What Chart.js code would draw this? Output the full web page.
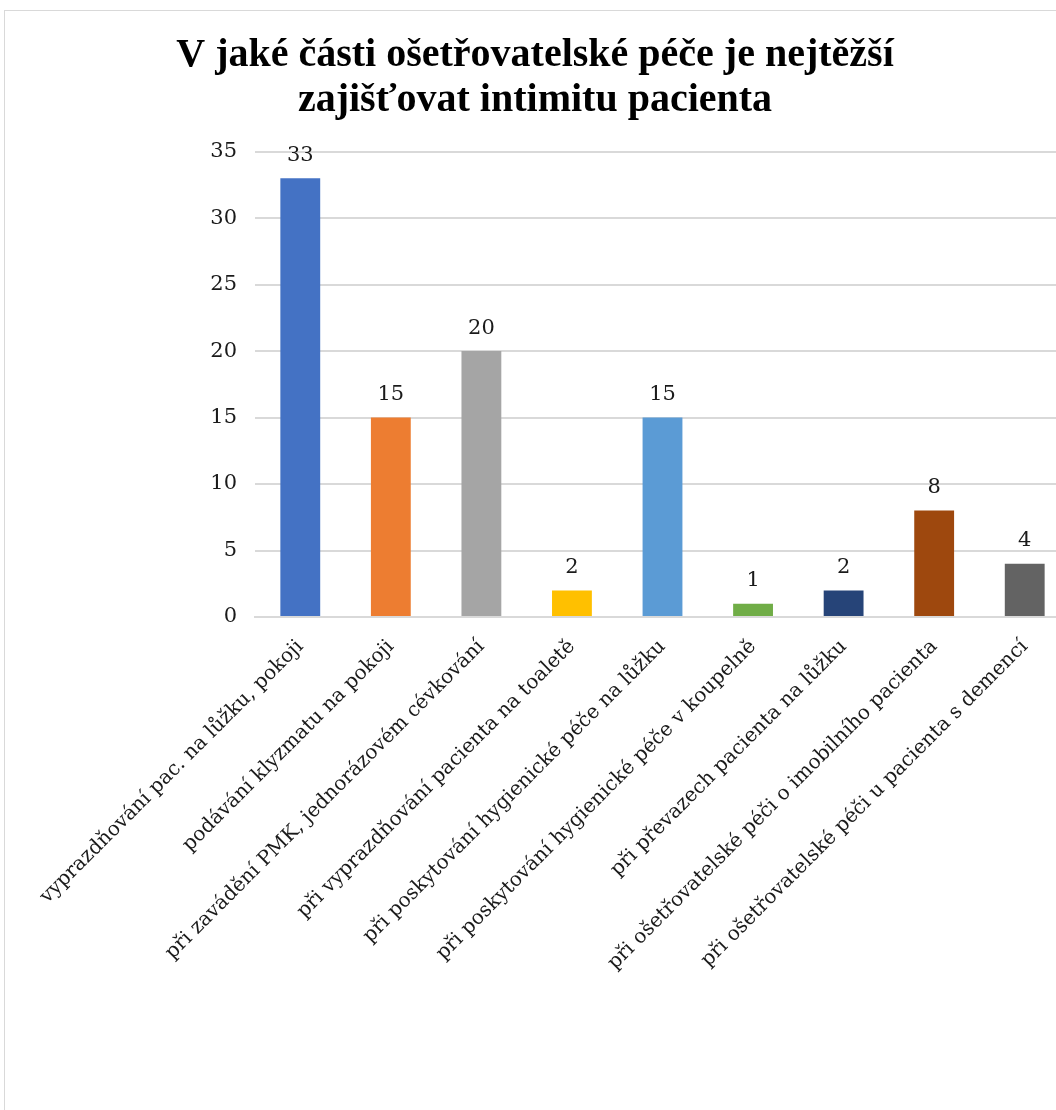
<!DOCTYPE html>
<html>
<head>
<meta charset="utf-8">
<script src="https://cdn.jsdelivr.net/npm/chart.js@4/dist/chart.umd.min.js"></script>
<style>
  html, body { margin: 0; padding: 0; background: #fff; overflow: hidden; width: 1056px; height: 1110px; }
  #frame { position: absolute; left: 4px; top: 10px; width: 1100px; height: 1150px; border: 1px solid #d9d9d9; box-sizing: border-box; }
  #wrap { position: absolute; left: 0; top: 0; width: 1078px; height: 1110px; }
</style>
</head>
<body>
<div id="frame"></div>
<div id="wrap"><canvas id="c" width="1078" height="1110"></canvas></div>
<script>
const titleLines = ["V jaké části ošetřovatelské péče je nejtěžší", "zajišťovat intimitu pacienta"];
const categories = [
  "vyprazdňování pac. na lůžku, pokoji",
  "podávání klyzmatu na pokoji",
  "při zavádění PMK, jednorázovém cévkování",
  "při vyprazdňování pacienta na toaletě",
  "při poskytování hygienické péče na lůžku",
  "při poskytování hygienické péče v koupelně",
  "při převazech pacienta na lůžku",
  "při ošetřovatelské péči o imobilního pacienta",
  "při ošetřovatelské péči u pacienta s demencí"
];
const values = [33, 15, 20, 2, 15, 1, 2, 8, 4];
const barColors = ["#4472C4", "#ED7D31", "#A5A5A5", "#FFC000", "#5B9BD5", "#70AD47", "#264478", "#9E480E", "#636363"];
const yTicks = [0, 5, 10, 15, 20, 25, 30, 35];

const SERIF = "'DejaVu Serif', 'Liberation Serif', serif";
const TITLE_FONT = "'Liberation Serif', serif";
const TEXT = "#1a1a1a";

const valueLabels = {
  id: 'valueLabels',
  afterDatasetsDraw(chart) {
    const ctx = chart.ctx;
    const meta = chart.getDatasetMeta(0);
    ctx.save();
    ctx.font = "21px " + SERIF;
    ctx.fillStyle = TEXT;
    ctx.textAlign = 'center';
    ctx.textBaseline = 'middle';
    meta.data.forEach((bar, i) => {
      ctx.fillText(String(chart.data.datasets[0].data[i]), bar.x, bar.y - 23);
    });
    ctx.restore();
  }
};

new Chart(document.getElementById('c'), {
  type: 'bar',
  data: {
    labels: categories,
    datasets: [{
      data: values,
      backgroundColor: barColors,
      borderWidth: 0,
      barPercentage: 0.44,
      categoryPercentage: 1.0
    }]
  },
  options: {
    responsive: false,
    animation: false,
    devicePixelRatio: 1,
    layout: { padding: { left: 0, right: 8, top: 33, bottom: 0 } },
    plugins: {
      legend: { display: false },
      tooltip: { enabled: false },
      title: {
        display: true,
        text: titleLines,
        color: '#000',
        font: { family: TITLE_FONT, size: 40, weight: 'bold', lineHeight: 1.12 },
        padding: { top: 0, bottom: 29 }
      }
    },
    scales: {
      x: {
        grid: { display: false, drawTicks: false },
        border: { color: '#d9d9d9', width: 2 },
        ticks: {
          color: TEXT,
          font: { family: SERIF, size: 20 },
          maxRotation: 45,
          minRotation: 45,
          autoSkip: false,
          padding: 18
        },
        afterFit(s) { s.height = 493; }
      },
      y: {
        min: 0,
        max: 35,
        afterBuildTicks(s) { s.ticks = yTicks.map(v => ({ value: v })); },
        grid: { color: '#d9d9d9', lineWidth: 2, drawTicks: false },
        border: { display: false },
        ticks: {
          color: TEXT,
          font: { family: SERIF, size: 21 },
          padding: 18
        },
        afterFit(s) { s.width = 255; }
      }
    }
  },
  plugins: [valueLabels]
});
</script>
</body>
</html>
